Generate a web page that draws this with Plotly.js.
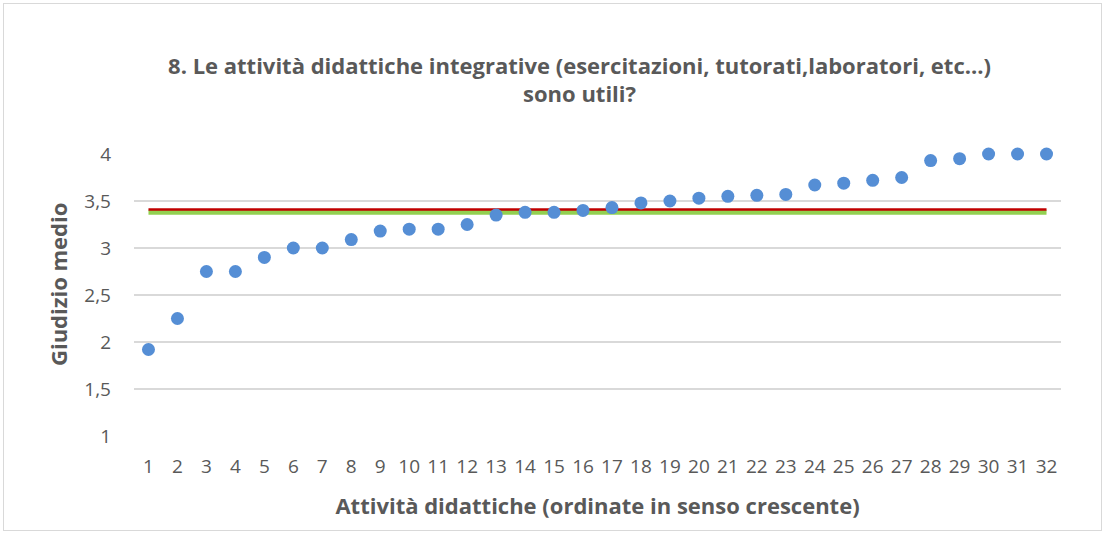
<!DOCTYPE html>
<html>
<head>
<meta charset="utf-8">
<script src="https://cdn.plot.ly/plotly-3.0.1.min.js"></script>
<style>
html,body{margin:0;padding:0;background:#fff;}
#wrap{position:absolute;left:3px;top:3px;width:1099px;height:528px;border:1.5px solid #d9d9d9;box-sizing:border-box;}
#chart{position:absolute;left:0;top:0;width:1106px;height:534px;}
</style>
</head>
<body>
<div id="wrap"></div>
<div id="chart"></div>
<script>
const activities = [1,2,3,4,5,6,7,8,9,10,11,12,13,14,15,16,17,18,19,20,21,22,23,24,25,26,27,28,29,30,31,32];
const scores = [1.92,2.25,2.75,2.75,2.90,3.00,3.00,3.09,3.18,3.20,3.20,3.25,3.35,3.38,3.38,3.40,3.43,3.48,3.50,3.53,3.55,3.56,3.57,3.67,3.69,3.72,3.75,3.93,3.95,4.00,4.00,4.00];
const redLevel = 3.41;
const greenLevel = 3.38;
const yTicks = [1,1.5,2,2.5,3,3.5,4];
const yTickLabels = ["1","1,5","2","2,5","3","3,5","4"];
const titleText = "8. Le attività didattiche integrative (esercitazioni, tutorati,laboratori, etc...)<br>sono utili?";
const xTitle = "Attività didattiche (ordinate in senso crescente)";
const yTitle = "Giudizio medio";

const ends = [activities[0], activities[activities.length-1]];
const font = "Open Sans, Liberation Sans, sans-serif";

const traces = [
  {x: ends, y: ends.map(()=>greenLevel), mode:'lines', line:{color:'#92d050', width:5}, hoverinfo:'skip', cliponaxis:false},
  {x: ends, y: ends.map(()=>redLevel), mode:'lines', line:{color:'#c00000', width:2.5}, hoverinfo:'skip', cliponaxis:false},
  {x: activities, y: scores, mode:'markers', marker:{color:'#558ed5', size:13}, cliponaxis:false}
];

const layout = {
  width:1106, height:534,
  paper_bgcolor:'rgba(0,0,0,0)', plot_bgcolor:'rgba(0,0,0,0)',
  showlegend:false,
  margin:{l:134, r:45, t:154, b:98},
  title:{text:titleText, font:{family:font, size:22, color:'#595959', weight:'bold'}, x:0.524, xanchor:'center', y:0.862, yanchor:'top'},
  xaxis:{
    range:[0.5,32.5], tickmode:'array', tickvals:activities, ticktext:activities.map(String),
    showgrid:false, zeroline:false, showline:false, ticks:'',
    ticklabelstandoff:17,
    tickfont:{family:font, size:19, color:'#595959'},
    title:{text:xTitle, font:{family:font, size:22, color:'#595959', weight:'bold'}, standoff:20}
  },
  yaxis:{
    range:[1,4], tickmode:'array', tickvals:yTicks, ticktext:yTickLabels,
    showgrid:true, gridcolor:'#d9d9d9', gridwidth:1.5, zeroline:false, showline:false, ticks:'',
    ticklabelstandoff:22,
    tickfont:{family:font, size:19, color:'#595959'}
  },
  annotations:[{
    text:yTitle, textangle:-90, showarrow:false,
    xref:'paper', yref:'paper', x:(58-134)/927, y:(436-285)/282, xanchor:'center', yanchor:'middle',
    font:{family:font, size:22, color:'#595959', weight:'bold'}
  }]
};

Plotly.newPlot('chart', traces, layout, {staticPlot:true, displayModeBar:false});
</script>
</body>
</html>
